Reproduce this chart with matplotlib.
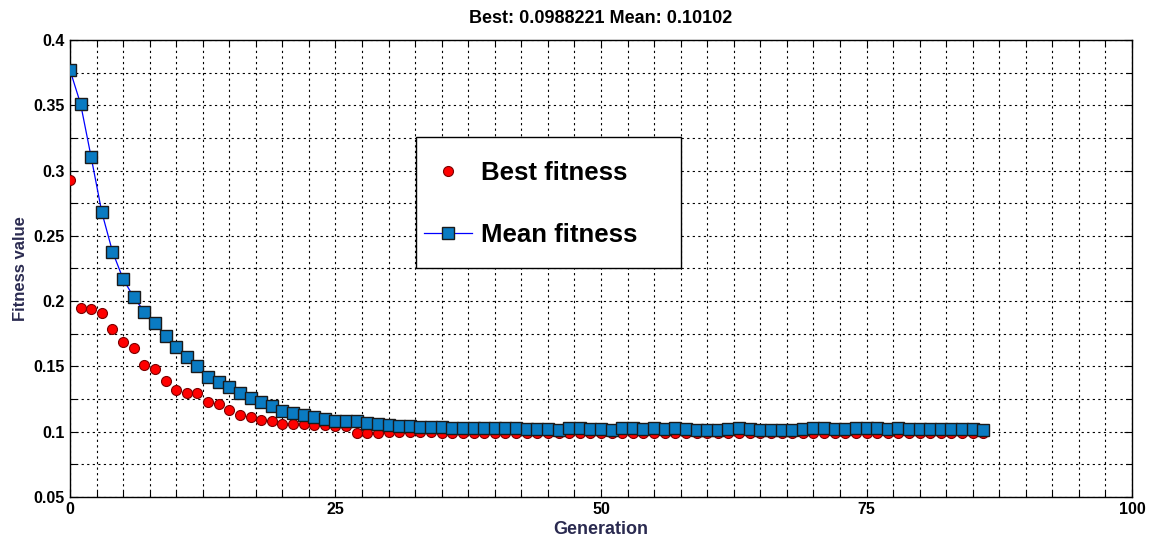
import matplotlib
matplotlib.use("Agg")
import matplotlib.pyplot as plt
from matplotlib.ticker import MultipleLocator, FixedLocator
from matplotlib.patches import Rectangle

generations = list(range(87))

best_fitness = [
    0.293, 0.195, 0.194, 0.191, 0.179, 0.169, 0.164, 0.151, 0.148, 0.139,
    0.132, 0.130, 0.130, 0.123, 0.121, 0.117, 0.113, 0.111, 0.109, 0.108,
    0.106, 0.106, 0.106, 0.105, 0.105, 0.104, 0.104, 0.0988, 0.0988, 0.0990,
    0.0995, 0.0995, 0.0995, 0.0995, 0.0995, 0.0993, 0.0993, 0.0993, 0.0992, 0.0992,
    0.0992, 0.0992, 0.0992, 0.0991, 0.0991, 0.0991, 0.0991, 0.0991, 0.0990, 0.0990,
    0.0990, 0.0990, 0.0990, 0.0990, 0.0990, 0.0990, 0.0990, 0.0990, 0.0989, 0.0989,
    0.0989, 0.0989, 0.0989, 0.0989, 0.0989, 0.0989, 0.0989, 0.0989, 0.0989, 0.0989,
    0.0989, 0.0989, 0.0989, 0.0989, 0.0989, 0.0988, 0.0988, 0.0988, 0.0988, 0.0988,
    0.0988, 0.0988, 0.0988, 0.0988, 0.0988, 0.0988, 0.0988,
]

mean_fitness = [
    0.377, 0.351, 0.310, 0.268, 0.238, 0.217, 0.203, 0.192, 0.183, 0.173,
    0.165, 0.157, 0.150, 0.142, 0.138, 0.134, 0.130, 0.126, 0.123, 0.120,
    0.116, 0.114, 0.113, 0.111, 0.110, 0.108, 0.108, 0.108, 0.107, 0.106,
    0.105, 0.104, 0.104, 0.1035, 0.1035, 0.1035, 0.1032, 0.1030, 0.1030, 0.1030,
    0.1025, 0.1025, 0.1030, 0.1020, 0.1020, 0.1020, 0.1017, 0.1025, 0.1025, 0.1022,
    0.1022, 0.1017, 0.1025, 0.1025, 0.1022, 0.1025, 0.1020, 0.1025, 0.1020, 0.1017,
    0.1014, 0.1017, 0.1020, 0.1025, 0.1018, 0.1015, 0.1015, 0.1015, 0.1017, 0.1022,
    0.1026, 0.1026, 0.1020, 0.1022, 0.1026, 0.1026, 0.1026, 0.1023, 0.1026, 0.1022,
    0.1020, 0.1020, 0.1022, 0.1020, 0.1023, 0.1020, 0.10102,
]

title_text = "Best: 0.0988221 Mean: 0.10102"
x_label = "Generation"
y_label = "Fitness value"
x_ticks = [0, 25, 50, 75, 100]
y_ticks = [0.05, 0.1, 0.15, 0.2, 0.25, 0.3, 0.35, 0.4]
y_tick_labels = ["0.05", "0.1", "0.15", "0.2", "0.25", "0.3", "0.35", "0.4"]

plt.rcParams['font.family'] = ['Liberation Sans', 'DejaVu Sans']

fig = plt.figure(figsize=(11.51, 5.40), dpi=100)
ax = fig.add_axes([0.0608, 0.0796, 0.9227, 0.8464])

ax.plot(generations, best_fitness, linestyle='none', marker='o', markersize=7.2,
        markerfacecolor='#ff0000', markeredgecolor='#7a0000', markeredgewidth=0.8,
        label='Best fitness', zorder=3)
ax.plot(generations, mean_fitness, color='#0000ff', linewidth=0.9, marker='s', markersize=8.4,
        markerfacecolor='#0a7bc2', markeredgecolor='#1a1a1a', markeredgewidth=1.0,
        label='Mean fitness', zorder=4)

ax.set_xlim(0, 100)
ax.set_ylim(0.05, 0.4)
ax.xaxis.set_major_locator(FixedLocator(x_ticks))
ax.xaxis.set_minor_locator(MultipleLocator(2.5))
ax.yaxis.set_major_locator(FixedLocator(y_ticks))
ax.set_yticklabels(y_tick_labels)
ax.yaxis.set_minor_locator(MultipleLocator(0.025))

ax.grid(True, which='both', color='black', linestyle=(0, (2, 3)), linewidth=0.8)
ax.tick_params(which='both', direction='in', top=True, right=True, labelsize=11.5, width=0.8)
ax.tick_params(which='major', length=6)
ax.tick_params(which='minor', length=4)
for lbl in ax.get_xticklabels() + ax.get_yticklabels():
    lbl.set_fontweight('bold')
for sp in ax.spines.values():
    sp.set_linewidth(1.0)
    sp.set_color('black')

ax.set_title(title_text, fontsize=13, fontweight='bold', pad=12)
ax.set_xlabel(x_label, fontsize=13, fontweight='bold', color='#2a2a50', labelpad=3)
ax.set_ylabel(y_label, fontsize=12, fontweight='bold', color='#2a2a50', labelpad=4)

# legend frame
frame = Rectangle((0.326, 0.501), 0.249, 0.287, transform=ax.transAxes,
                  facecolor='white', edgecolor='black', linewidth=1.0, zorder=5)
ax.add_patch(frame)

leg = ax.legend(loc='center left', bbox_to_anchor=(0.3333, 0.641),
                prop={'size': 18.5, 'weight': 'bold'}, frameon=False,
                borderpad=0, labelspacing=1.51, handlelength=1.87, handletextpad=0.35,
                borderaxespad=0)
leg.set_zorder(6)

fig.savefig('out.png', dpi=100, facecolor='white')
